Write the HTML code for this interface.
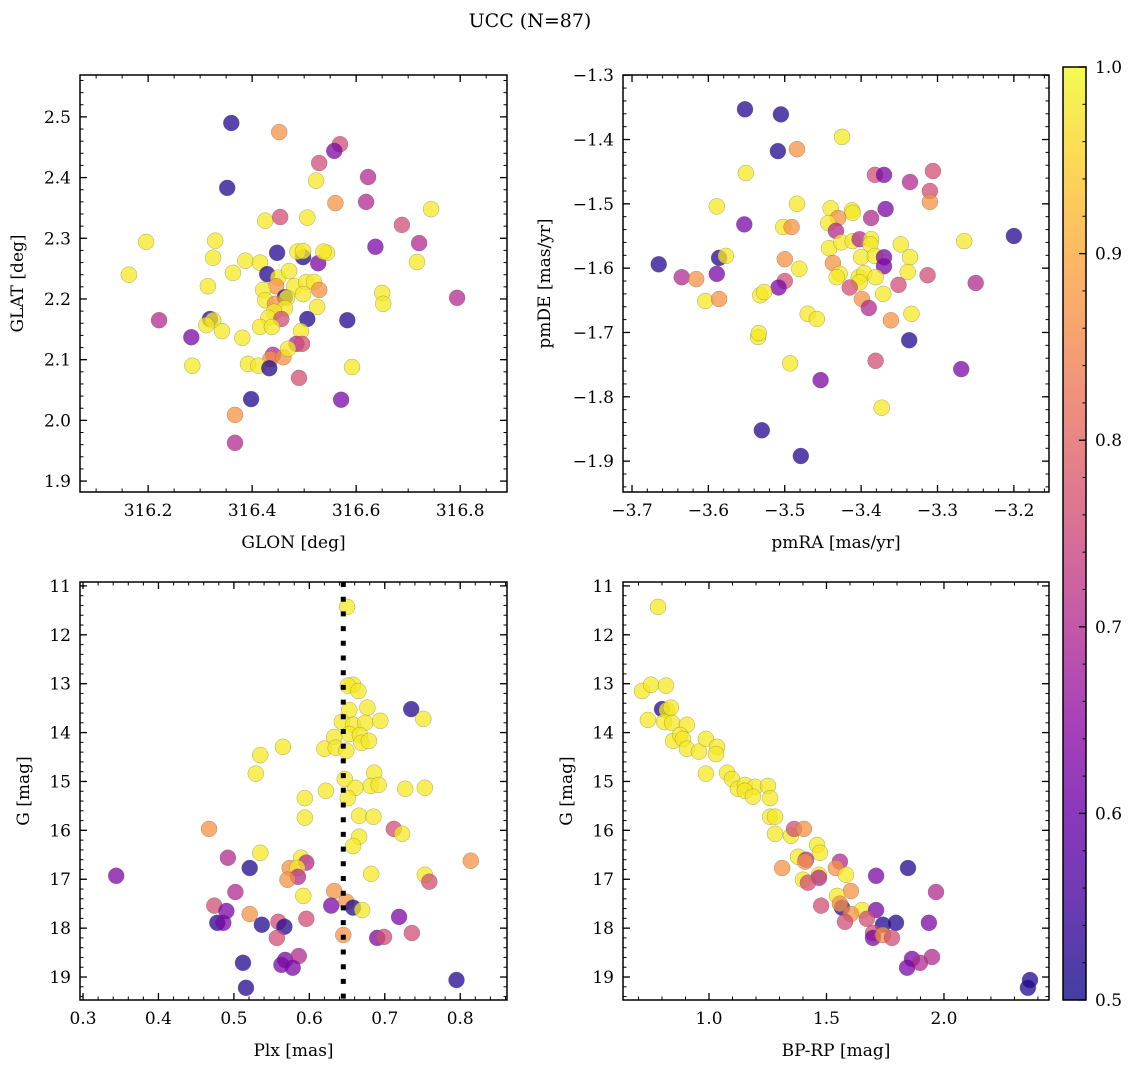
<!DOCTYPE html>
<html><head><meta charset="utf-8"><style>
html,body{margin:0;padding:0;background:#fff;}
svg{display:block;font-family:"DejaVu Serif","Liberation Serif",serif;}
</style></head><body>
<svg id="fig" width="1136" height="1067" viewBox="0 0 1136 1067" xmlns="http://www.w3.org/2000/svg">
<defs><linearGradient id="plasma" x1="0" y1="1" x2="0" y2="0">
<stop offset="0" stop-color="#0d0887"/><stop offset="0.1" stop-color="#41049d"/><stop offset="0.2" stop-color="#6a00a8"/><stop offset="0.3" stop-color="#8f0da4"/><stop offset="0.4" stop-color="#b12a90"/><stop offset="0.5" stop-color="#cc4778"/><stop offset="0.6" stop-color="#e16462"/><stop offset="0.7" stop-color="#f2844b"/><stop offset="0.8" stop-color="#fca636"/><stop offset="0.9" stop-color="#fcce25"/><stop offset="1" stop-color="#f0f921"/></linearGradient></defs>
<text x="530" y="27" font-size="19" text-anchor="middle">UCC (N=87)</text>
</svg>
<script>
// ---- Panel 1: GLON vs GLAT ----
const glon = [316.360,316.452,316.569,316.558,316.529,316.623,316.523,316.352,316.560,316.619,316.744,316.425,316.454,316.506,316.688,316.196,316.329,316.721,316.637,316.717,316.448,316.325,316.387,316.415,316.498,316.487,316.498,316.527,316.544,316.537,316.163,316.363,316.429,316.450,316.471,316.446,316.421,316.481,316.504,316.519,316.529,316.315,316.463,316.467,316.498,316.425,316.444,316.463,316.525,316.650,316.652,316.794,316.221,316.319,316.325,316.312,316.342,316.442,316.431,316.456,316.415,316.438,316.506,316.583,316.283,316.381,316.494,316.485,316.496,316.440,316.435,316.460,316.469,316.285,316.392,316.412,316.433,316.592,316.490,316.398,316.571,316.367,316.367];
const glat = [2.490,2.475,2.455,2.444,2.424,2.401,2.395,2.383,2.358,2.360,2.348,2.329,2.335,2.334,2.322,2.294,2.296,2.292,2.286,2.261,2.276,2.268,2.263,2.260,2.269,2.278,2.279,2.259,2.276,2.278,2.240,2.243,2.241,2.235,2.246,2.221,2.215,2.221,2.228,2.228,2.215,2.221,2.203,2.202,2.208,2.198,2.192,2.185,2.187,2.210,2.192,2.202,2.165,2.167,2.165,2.157,2.147,2.179,2.169,2.167,2.154,2.154,2.167,2.165,2.137,2.136,2.147,2.126,2.126,2.108,2.101,2.104,2.118,2.090,2.093,2.090,2.086,2.088,2.070,2.035,2.034,2.009,1.963];
const prob1 = "dokpkmydomyykykyympydyyydyypyyyydyyoyyyyoydyyyoyyyymmdyyyyykyyddpyymkmooyyyydykdpom";
// ---- Panel 2: pmRA vs pmDE ----
const pmra = [-3.552,-3.505,-3.425,-3.509,-3.484,-3.551,-3.382,-3.370,-3.336,-3.306,-3.310,-3.310,-3.589,-3.484,-3.440,-3.412,-3.411,-3.430,-3.387,-3.368,-3.553,-3.502,-3.491,-3.443,-3.433,-3.200,-3.265,-3.665,-3.586,-3.577,-3.635,-3.616,-3.589,-3.500,-3.481,-3.442,-3.426,-3.411,-3.402,-3.387,-3.388,-3.348,-3.336,-3.400,-3.382,-3.370,-3.370,-3.437,-3.339,-3.428,-3.432,-3.403,-3.396,-3.381,-3.402,-3.415,-3.351,-3.313,-3.250,-3.500,-3.508,-3.604,-3.586,-3.532,-3.527,-3.399,-3.390,-3.371,-3.470,-3.458,-3.361,-3.334,-3.535,-3.534,-3.337,-3.493,-3.381,-3.269,-3.453,-3.373,-3.530,-3.479];
const pmde = [-1.353,-1.361,-1.396,-1.418,-1.415,-1.452,-1.455,-1.455,-1.466,-1.449,-1.480,-1.497,-1.504,-1.500,-1.507,-1.510,-1.514,-1.522,-1.522,-1.508,-1.532,-1.536,-1.536,-1.530,-1.542,-1.550,-1.558,-1.594,-1.584,-1.581,-1.614,-1.617,-1.609,-1.586,-1.601,-1.569,-1.560,-1.558,-1.555,-1.555,-1.563,-1.563,-1.583,-1.583,-1.581,-1.583,-1.597,-1.592,-1.606,-1.609,-1.614,-1.614,-1.608,-1.614,-1.622,-1.630,-1.626,-1.611,-1.623,-1.620,-1.630,-1.651,-1.648,-1.642,-1.637,-1.648,-1.662,-1.640,-1.671,-1.679,-1.681,-1.671,-1.707,-1.701,-1.712,-1.748,-1.744,-1.757,-1.774,-1.817,-1.852,-1.892];
const prob2 = "ddydoykpmkkoyyyyyomppyoymdyddymopoyyyymyyyyyyppoyyyyyyykkkmkpyoyyomyyyoyyydykppydd";
// ---- Panel 3: Plx vs G ----
const plx = [0.650,0.658,0.651,0.665,0.735,0.653,0.677,0.751,0.643,0.658,0.674,0.694,0.653,0.667,0.669,0.679,0.633,0.620,0.635,0.649,0.565,0.535,0.529,0.647,0.686,0.681,0.692,0.661,0.622,0.651,0.727,0.753,0.594,0.594,0.666,0.685,0.467,0.712,0.723,0.666,0.658,0.535,0.492,0.589,0.596,0.574,0.584,0.521,0.814,0.344,0.585,0.571,0.682,0.753,0.759,0.502,0.633,0.592,0.474,0.490,0.629,0.649,0.658,0.670,0.521,0.719,0.478,0.486,0.537,0.559,0.567,0.596,0.557,0.645,0.690,0.699,0.736,0.512,0.568,0.586,0.563,0.578,0.795,0.516];
const gmag3 = [11.43,13.02,13.04,13.15,13.52,13.54,13.49,13.72,13.78,13.84,13.80,13.76,14.03,14.05,14.21,14.17,14.09,14.33,14.31,14.37,14.29,14.46,14.84,14.95,14.82,15.09,15.07,15.13,15.19,15.34,15.15,15.13,15.34,15.74,15.70,15.72,15.97,15.97,16.07,16.13,16.32,16.46,16.56,16.56,16.66,16.77,16.77,16.77,16.62,16.93,16.95,17.01,16.89,16.91,17.05,17.26,17.24,17.34,17.54,17.65,17.54,17.46,17.58,17.63,17.71,17.77,17.89,17.89,17.93,17.87,17.97,17.81,18.20,18.14,18.20,18.18,18.10,18.71,18.65,18.57,18.75,18.81,19.06,19.22];
const prob3 = "yyyydyyyyyyyyyyyyyyyyyyyyyyyyyyyyyyyokyyyymymoydopmoyykmoykppodyopdpdkdkkopkkdpmppdd";
// ---- Panel 4: BP-RP vs G ----
const bprp = [0.783,0.715,0.753,0.817,0.800,0.821,0.838,0.740,0.809,0.843,0.906,0.847,0.877,0.889,0.906,0.957,0.987,1.034,1.030,0.987,1.077,1.098,1.123,1.153,1.196,1.153,1.187,1.251,1.260,1.260,1.281,1.281,1.349,1.362,1.404,1.460,1.472,1.379,1.413,1.409,1.557,1.540,1.311,1.583,1.468,1.468,1.400,1.421,1.711,1.847,1.604,1.966,1.545,1.477,1.566,1.557,1.651,1.604,1.711,1.672,1.579,1.740,1.796,1.936,1.698,1.698,1.740,1.779,1.864,1.898,1.843,1.949,2.366,2.357];
const gmag4 = [11.43,13.15,13.02,13.04,13.52,13.54,13.49,13.74,13.78,13.80,13.84,14.17,14.05,14.13,14.33,14.39,14.13,14.29,14.44,14.84,14.82,14.95,15.15,15.07,15.11,15.19,15.31,15.09,15.34,15.72,15.72,16.07,16.11,15.97,15.97,16.30,16.46,16.54,16.60,16.64,16.64,16.77,16.77,16.91,16.91,16.97,17.01,17.07,16.93,16.77,17.24,17.26,17.34,17.54,17.58,17.50,17.63,17.71,17.63,17.81,17.87,17.93,17.89,17.89,18.10,18.20,18.14,18.20,18.63,18.71,18.81,18.59,19.06,19.22];
const prob4 = "yyyydyyyyyyyyyyyyyyyyyyyyyyyyyyyykoyyymomooyymykpdomykdoyopkkddpkpokpmpmdd";
// ---- Tick arrays ----
const ticks1x = [316.2,316.4,316.6,316.8];
const ticks1y = [1.9,2.0,2.1,2.2,2.3,2.4,2.5];
const ticks2x = [-3.7,-3.6,-3.5,-3.4,-3.3,-3.2];
const ticks2y = [-1.9,-1.8,-1.7,-1.6,-1.5,-1.4,-1.3];
const ticks3x = [0.3,0.4,0.5,0.6,0.7,0.8];
const ticksG = [11,12,13,14,15,16,17,18,19];
const ticks4x = [1.0,1.5,2.0];
const ticksCb = [0.5,0.6,0.7,0.8,0.9,1.0];
const plxLine = 0.645;

const probMap = {d:0.52,p:0.62,m:0.70,k:0.76,o:0.87,y:0.98};
const stops = ["#0d0887","#41049d","#6a00a8","#8f0da4","#b12a90","#cc4778","#e16462","#f2844b","#fca636","#fcce25","#f0f921"];
function hex(h){return [parseInt(h.slice(1,3),16),parseInt(h.slice(3,5),16),parseInt(h.slice(5,7),16)];}
function plasma(v){let t=Math.max(0,Math.min(1,(v-0.5)/0.5))*10;let i=Math.min(9,Math.floor(t));let f=t-i;const a=hex(stops[i]),b=hex(stops[i+1]);
return "rgb("+a.map((c,j)=>Math.round(c+(b[j]-c)*f)).join(",")+")";}
const NS="http://www.w3.org/2000/svg";
const svg=document.getElementById("fig");
function mk(tag,attrs,parent){const e=document.createElementNS(NS,tag);for(const k in attrs)e.setAttribute(k,attrs[k]);(parent||svg).appendChild(e);return e;}
function fmt(v,d){let s=v.toFixed(d);return s.replace("-","\u2212");}
const FS=17;
function panel(cfg){
  const {x0,y0,x1,y1,xmin,xmax,ymin,ymax,invY,name}=cfg;
  const g=mk("g",{});
  
  
  const sx=v=>x0+(v-xmin)/(xmax-xmin)*(x1-x0);
  const sy=invY?(v=>y0+(v-ymin)/(ymax-ymin)*(y1-y0)):(v=>y1-(v-ymin)/(ymax-ymin)*(y1-y0));
  return {g,sx,sy,cfg};
}
function frame(P,xt,xd,xminor,yt,yd,yminor){
  const {x0,y0,x1,y1,xmin,xmax,ymin,ymax}=P.cfg;const g=P.g;
  const lo=Math.min(ymin,ymax),hi=Math.max(ymin,ymax);
  for(let v=Math.ceil(xmin/xminor-1e-6)*xminor;v<=xmax+1e-9;v+=xminor){const x=P.sx(v);
    mk("line",{x1:x,x2:x,y1:y1,y2:y1-3.5,stroke:"#000","stroke-width":1},g);mk("line",{x1:x,x2:x,y1:y0,y2:y0+3.5,stroke:"#000","stroke-width":1},g);}
  for(let v=Math.ceil(lo/yminor-1e-6)*yminor;v<=hi+1e-9;v+=yminor){const y=P.sy(v);
    mk("line",{x1:x0,x2:x0+3.5,y1:y,y2:y,stroke:"#000","stroke-width":1},g);mk("line",{x1:x1,x2:x1-3.5,y1:y,y2:y,stroke:"#000","stroke-width":1},g);}
  xt.forEach(v=>{const x=P.sx(v);
    mk("line",{x1:x,x2:x,y1:y1,y2:y1-7,stroke:"#000","stroke-width":1.3},g);mk("line",{x1:x,x2:x,y1:y0,y2:y0+7,stroke:"#000","stroke-width":1.3},g);
    const t=mk("text",{x:x,y:y1+24,"font-size":FS,"text-anchor":"middle"},g);t.textContent=fmt(v,xd);
    
    });
  yt.forEach(v=>{const y=P.sy(v);
    mk("line",{x1:x0,x2:x0+7,y1:y,y2:y,stroke:"#000","stroke-width":1.3},g);mk("line",{x1:x1,x2:x1-7,y1:y,y2:y,stroke:"#000","stroke-width":1.3},g);
    const t=mk("text",{x:x0-9,y:y+6,"font-size":FS,"text-anchor":"end"},g);t.textContent=fmt(v,yd);
    
    });
  mk("rect",{x:x0,y:y0,width:x1-x0,height:y1-y0,fill:"none",stroke:"#000","stroke-width":1.5},g);
}
function labels(P,xl,yl,ylx){
  const {x0,y0,x1,y1}=P.cfg;
  const a=mk("text",{x:(x0+x1)/2,y:y1+56,"font-size":FS,"text-anchor":"middle"},P.g);a.textContent=xl;
  
  
  const cy=(y0+y1)/2;
  const b=mk("text",{x:ylx,y:cy,"font-size":FS,"text-anchor":"middle",transform:"rotate(-90 "+ylx+" "+cy+")"},P.g);b.textContent=yl;
  
  
}
function scatter(P,xs,ys,ps){
  const layer=mk("g",{},P.g);
  xs.forEach((xv,i)=>{const c=mk("circle",{cx:P.sx(xv).toFixed(1),cy:P.sy(ys[i]).toFixed(1),r:8,fill:plasma(probMap[ps[i]]),"fill-opacity":0.75,stroke:"#555","stroke-opacity":0.5,"stroke-width":0.5},layer);
    
    });
}
const P1=panel({x0:80,y0:75,x1:507,y1:492,xmin:316.069,xmax:316.890,ymin:1.882,ymax:2.569,invY:false,name:"panel-glon-glat"});
scatter(P1,glon,glat,prob1);frame(P1,ticks1x,1,0.05,ticks1y,1,0.02);labels(P1,"GLON [deg]","GLAT [deg]",23);
const P2=panel({x0:623,y0:75,x1:1049,y1:492,xmin:-3.7118,xmax:-3.154,ymin:-1.948,ymax:-1.2997,invY:false,name:"panel-pm"});
scatter(P2,pmra,pmde,prob2);frame(P2,ticks2x,1,0.02,ticks2y,1,0.02);labels(P2,"pmRA [mas/yr]","pmDE [mas/yr]",550);
const P3=panel({x0:80,y0:582,x1:507,y1:1000,xmin:0.296,xmax:0.862,ymin:10.92,ymax:19.47,invY:true,name:"panel-plx-g"});
scatter(P3,plx,gmag3,prob3);
const lx=P3.sx(plxLine);
const dl=mk("line",{x1:lx,x2:lx,y1:582,y2:1000,stroke:"#000","stroke-width":5,"stroke-dasharray":"5 9.7"},P3.g);


frame(P3,ticks3x,1,0.02,ticksG,0,0.2);labels(P3,"Plx [mas]","G [mag]",29);
const P4=panel({x0:623,y0:582,x1:1049,y1:1000,xmin:0.634,xmax:2.447,ymin:10.92,ymax:19.47,invY:true,name:"panel-cmd"});
scatter(P4,bprp,gmag4,prob4);frame(P4,ticks4x,1,0.1,ticksG,0,0.2);labels(P4,"BP-RP [mag]","G [mag]",572);
const cb=mk("g",{});


const cbY0=67,cbY1=1000,cbX0=1063,cbX1=1086;
mk("rect",{x:cbX0,y:cbY0,width:cbX1-cbX0,height:cbY1-cbY0,fill:"url(#plasma)","fill-opacity":0.78},cb);
mk("rect",{x:cbX0,y:cbY0,width:cbX1-cbX0,height:cbY1-cbY0,fill:"none",stroke:"#000","stroke-width":1.5},cb);
const cy=v=>cbY1-(v-0.5)/0.5*(cbY1-cbY0);
for(let v=0.5;v<=1.0001;v+=0.02){const y=cy(v);mk("line",{x1:cbX1,x2:cbX1-3.5,y1:y,y2:y,stroke:"#000","stroke-width":1},cb);}
ticksCb.forEach(v=>{const y=cy(v);mk("line",{x1:cbX1,x2:cbX1-7,y1:y,y2:y,stroke:"#000","stroke-width":1.3},cb);
  const t=mk("text",{x:cbX1+9,y:y+6,"font-size":FS},cb);t.textContent=v.toFixed(1);
  
  });
</script>
</body></html>
